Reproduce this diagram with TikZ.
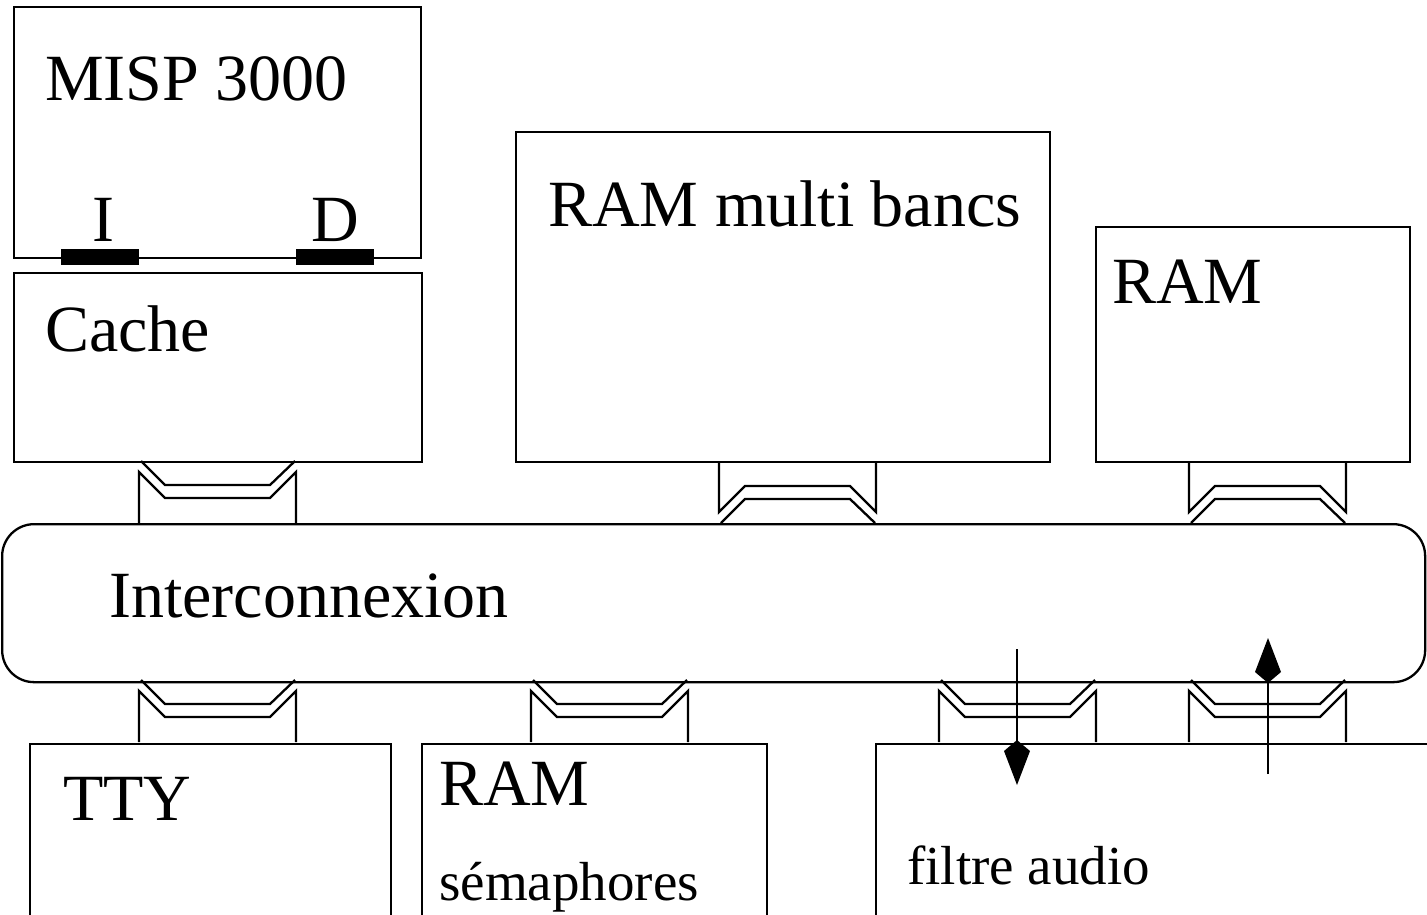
\documentclass[tikz,border=0pt]{standalone}
\usepackage{fontspec}
\setmainfont{Liberation Serif}
\usetikzlibrary{arrows.meta}

\tikzset{
  unit/.style={draw, line width=2.3pt, rectangle, inner sep=0pt, anchor=north west},
  big/.style={inner sep=0pt, anchor=base west, font=\fontsize{66}{72}\selectfont},
  small/.style={inner sep=0pt, anchor=base west, font=\fontsize{55}{60}\selectfont},
  port/.style={fill=black, draw=none},
  sig/.style={line width=2.3pt, -{Kite[length=45pt,width=26pt,inset=11pt]}},
  adapter/.pic={
    \draw[line width=2.3pt] (2,0) -- (26,24) -- (131,24) -- (156,0);
    \draw[line width=2.3pt] (0,62) -- (0,11) -- (26,37) -- (131,37) -- (157,11) -- (157,62);
  }
}

\begin{document}
\begin{tikzpicture}[x=1pt, y=-1pt, line join=miter]
\useasboundingbox (0,0) rectangle (1427,914);
\clip (0,0) rectangle (1427,914);

% processor and its cache
\node[unit, minimum width=407pt, minimum height=251pt] (cpu) at (13,6) {};
\node[unit, minimum width=408pt, minimum height=189pt] (cache) at (13,272) {};
\node[big] (cputxt) at (45,100) {MISP 3000};
\node[big] (cachetxt) at (45,351) {Cache};
\fill[port] (61,249) rectangle (139,265);
\fill[port] (296,249) rectangle (374,265);
\node[big, anchor=base] (itxt) at (103,241) {I};
\node[big, anchor=base] (dtxt) at (335,241) {D};

% memories above the interconnect
\node[unit, minimum width=534pt, minimum height=330pt] (mbank) at (515,131) {};
\node[big] (mbanktxt) at (548,226) {RAM multi bancs};
\node[unit, minimum width=314pt, minimum height=235pt] (ram) at (1095,226) {};
\node[big] (ramtxt) at (1112,303) {RAM};

% interconnect
\node[draw, line width=2.3pt, rounded corners=32pt, inner sep=0pt, anchor=north west,
      minimum width=1423pt, minimum height=158pt] (bus) at (1,523) {};
\node[big] (bustxt) at (109,617) {Interconnexion};

% peripherals below the interconnect (cut by the page edge)
\node[unit, minimum width=361pt, minimum height=220pt] (tty) at (29,743) {};
\node[big] (ttytxt) at (63,820) {TTY};
\node[unit, minimum width=345pt, minimum height=220pt] (sem) at (421,743) {};
\node[big] (semtxt) at (439,805) {RAM};
\node[small] (semtxt2) at (439,900) {sémaphores};
\node[unit, minimum width=600pt, minimum height=220pt] (audio) at (875,743) {};
\node[small] (audiotxt) at (907,884) {filtre audio};

% bus adapters
\pic at (139,461) {adapter};
\pic[yscale=-1] at (719,523) {adapter};
\pic[yscale=-1] at (1189,523) {adapter};
\pic at (139,680) {adapter};
\pic at (531,680) {adapter};
\pic at (939,680) {adapter};
\pic at (1189,680) {adapter};

% signal lines of the audio filter
\coordinate (a1s) at (1017,649);
\coordinate (a1e) at (1017,785);
\coordinate (a2s) at (1268,774);
\coordinate (a2e) at (1268,638);
\draw[sig] (a1s) -- (a1e);
\draw[sig] (a2s) -- (a2e);
\end{tikzpicture}
\end{document}
